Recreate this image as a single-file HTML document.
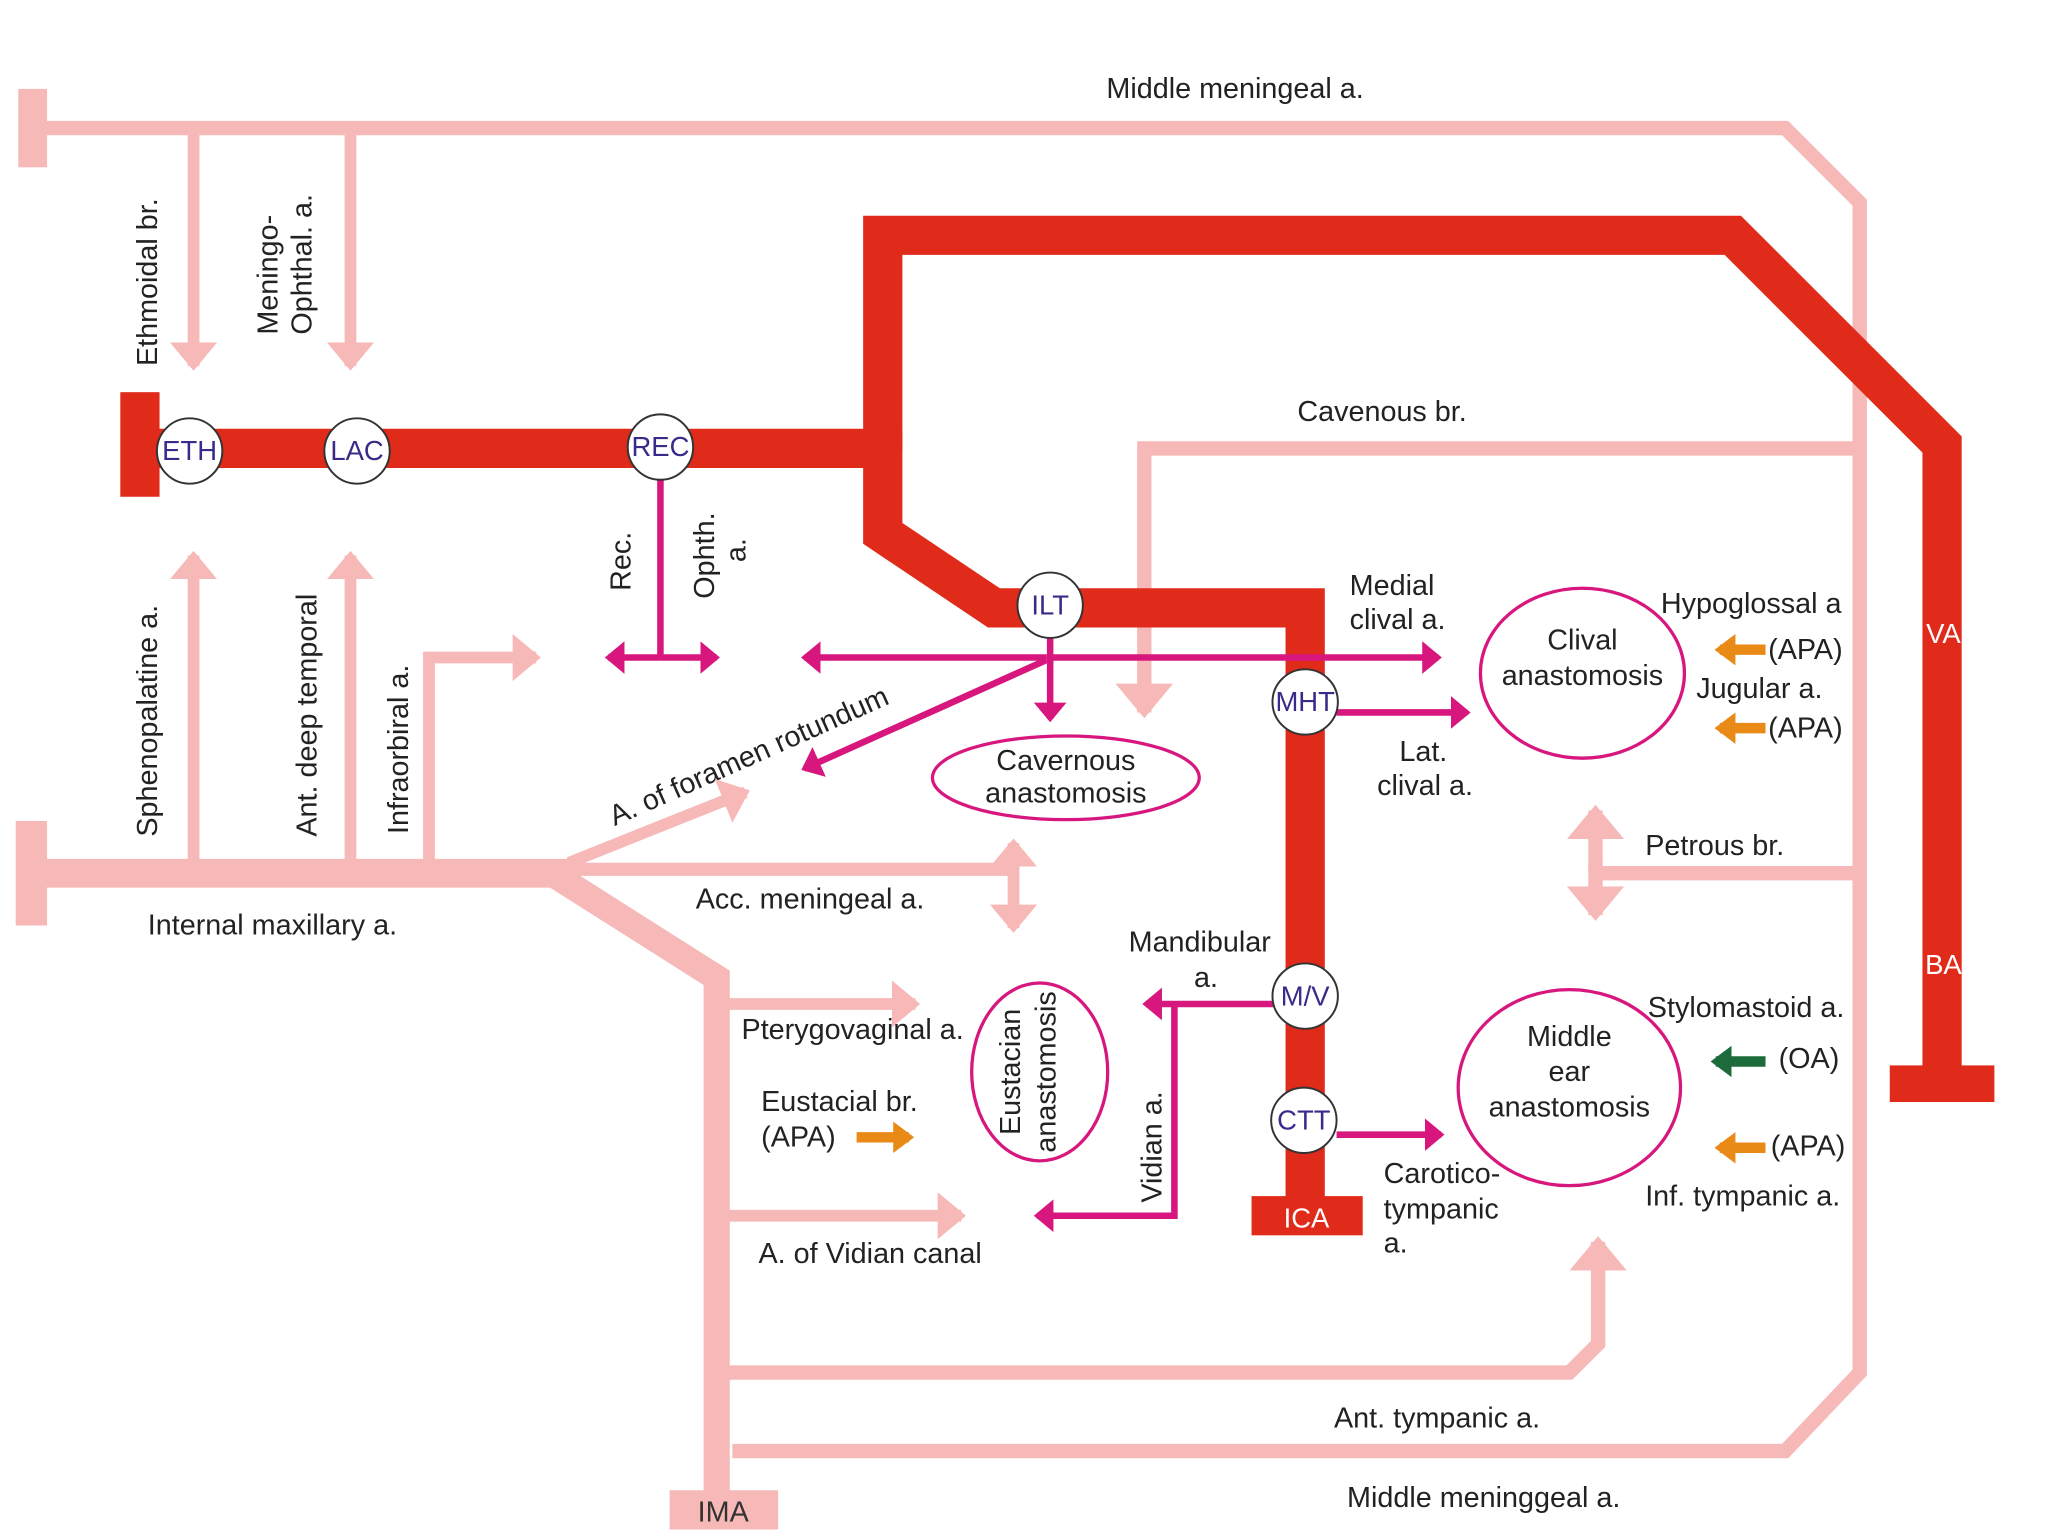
<!DOCTYPE html>
<html><head><meta charset="utf-8"><style>
html,body{margin:0;padding:0;background:#fff;}
svg{display:block;}
text{font-family:"Liberation Sans",Arial,sans-serif;font-size:22px;fill:#222;}
.c{fill:#3a2a8a;font-size:21px;text-anchor:middle;}
.w{fill:#fff;font-size:21px;text-anchor:middle;}
.m{text-anchor:middle;}
</style></head><body>
<svg width="2048" height="1536" viewBox="0 0 1566 1175" preserveAspectRatio="none" xmlns="http://www.w3.org/2000/svg">
<defs>
<marker id="pk" markerWidth="4" markerHeight="4" refX="2" refY="2" orient="auto" markerUnits="strokeWidth"><path d="M0,0 L2.4,2 L0,4 Z" fill="#f7b8b8"/></marker>
<marker id="mg" markerWidth="5" markerHeight="5" refX="2.5" refY="2.5" orient="auto" markerUnits="strokeWidth"><path d="M0,0 L3,2.5 L0,5 Z" fill="#d8177e"/></marker>
<marker id="or" markerWidth="3" markerHeight="3" refX="1.5" refY="1.5" orient="auto" markerUnits="strokeWidth"><path d="M0,0 L2,1.5 L0,3 Z" fill="#e98a17"/></marker>
<marker id="gr" markerWidth="3" markerHeight="3" refX="1.5" refY="1.5" orient="auto" markerUnits="strokeWidth"><path d="M0,0 L2,1.5 L0,3 Z" fill="#1d6a3a"/></marker>
</defs>
<g fill="none" stroke="#f7b8b8" stroke-linejoin="miter">
<rect x="14" y="68" width="22" height="60" fill="#f7b8b8" stroke="none"/>
<polyline points="25,98 1365,98 1422,155 1422,1050 1365,1110 560,1110" stroke-width="11"/>
<line x1="148" y1="98" x2="148" y2="280" stroke-width="9" marker-end="url(#pk)"/>
<line x1="268" y1="98" x2="268" y2="280" stroke-width="9" marker-end="url(#pk)"/>
<rect x="12" y="628" width="24" height="80" fill="#f7b8b8" stroke="none"/>
<line x1="25" y1="668" x2="435" y2="668" stroke-width="22"/>
<line x1="148" y1="668" x2="148" y2="425" stroke-width="9" marker-end="url(#pk)"/>
<line x1="268" y1="668" x2="268" y2="425" stroke-width="9" marker-end="url(#pk)"/>
<polyline points="328,668 328,503 410,503" stroke-width="9" marker-end="url(#pk)"/>
<line x1="435" y1="660" x2="570" y2="606" stroke-width="9" marker-end="url(#pk)"/>
<polyline points="430,665 775,665" stroke-width="10"/>
<line x1="775" y1="655" x2="775" y2="710" stroke-width="9" marker-end="url(#pk)"/>
<line x1="775" y1="665" x2="775" y2="645" stroke-width="9" marker-end="url(#pk)"/>
<polyline points="425,670 548,748 548,1145" stroke-width="20"/>
<line x1="548" y1="768" x2="700" y2="768" stroke-width="9" marker-end="url(#pk)"/>
<line x1="548" y1="930" x2="735" y2="930" stroke-width="9" marker-end="url(#pk)"/>
<polyline points="548,1050 1200,1050 1222,1028 1222,950" stroke-width="11" marker-end="url(#pk)"/>
<polyline points="1422,343 875,343 875,545" stroke-width="11" marker-end="url(#pk)"/>
<line x1="1422" y1="668" x2="1220" y2="668" stroke-width="11"/>
<line x1="1220" y1="660" x2="1220" y2="700" stroke-width="11" marker-end="url(#pk)"/>
<line x1="1220" y1="668" x2="1220" y2="620" stroke-width="11" marker-end="url(#pk)"/>
</g>
<rect x="512" y="1140" width="83" height="30" fill="#f7b8b8"/>
<text x="553" y="1164" class="m" style="fill:#333">IMA</text>
<g fill="none" stroke="#e02a1a" stroke-width="30">
<line x1="105" y1="343" x2="672" y2="343"/>
<polyline points="675,345 675,180 1325,180 1485,340 1485,830"/>
<polyline points="675,330 675,408 760,465 998,465 998,920"/>
</g>
<rect x="92" y="300" width="30" height="80" fill="#e02a1a"/>
<rect x="1445" y="815" width="80" height="28" fill="#e02a1a"/>
<rect x="957" y="915" width="85" height="30" fill="#e02a1a"/>
<text x="999" y="939" class="w">ICA</text>
<text x="1486" y="492" class="w">VA</text>
<text x="1486" y="745" class="w">BA</text>
<g stroke="#d8177e" stroke-width="5" fill="none">
<line x1="505" y1="367" x2="505" y2="503"/>
<line x1="505" y1="503" x2="548" y2="503" marker-end="url(#mg)"/>
<line x1="505" y1="503" x2="465" y2="503" marker-end="url(#mg)"/>
<line x1="800" y1="503" x2="615" y2="503" marker-end="url(#mg)"/>
<line x1="800" y1="503" x2="1100" y2="503" marker-end="url(#mg)"/>
<line x1="803" y1="488" x2="803" y2="550" marker-end="url(#mg)"/>
<line x1="800" y1="505" x2="615" y2="588" marker-end="url(#mg)"/>
<line x1="1022" y1="545" x2="1122" y2="545" marker-end="url(#mg)"/>
<line x1="975" y1="768" x2="876" y2="768" marker-end="url(#mg)"/>
<polyline points="898,768 898,930 793,930" marker-end="url(#mg)"/>
<line x1="1022" y1="868" x2="1102" y2="868" marker-end="url(#mg)"/>
</g>
<g stroke="#d8177e" stroke-width="2.5" fill="#fff">
<ellipse cx="815" cy="595" rx="102" ry="32"/>
<ellipse cx="1210" cy="515" rx="78" ry="65"/>
<ellipse cx="795" cy="820" rx="52" ry="68"/>
<ellipse cx="1200" cy="832" rx="85" ry="75"/>
</g>
<text x="815" y="589" class="m">Cavernous</text><text x="815" y="614" class="m">anastomosis</text>
<text x="1210" y="497" class="m">Clival</text><text x="1210" y="524" class="m">anastomosis</text>
<text x="1200" y="800" class="m">Middle</text><text x="1200" y="827" class="m">ear</text><text x="1200" y="854" class="m">anastomosis</text>
<text transform="translate(780,820) rotate(-90)" class="m">Eustacian</text>
<text transform="translate(807,820) rotate(-90)" class="m">anastomosis</text>
<g stroke="#333" stroke-width="1.5" fill="#fff">
<circle cx="145" cy="345" r="25"/><circle cx="273" cy="345" r="25"/><circle cx="505" cy="342" r="25"/>
<circle cx="803" cy="463" r="25"/><circle cx="998" cy="537" r="25"/><circle cx="998" cy="762" r="25"/><circle cx="997" cy="857" r="25"/>
</g>
<text x="145" y="352" class="c">ETH</text><text x="273" y="352" class="c">LAC</text><text x="505" y="349" class="c">REC</text>
<text x="803" y="470" class="c">ILT</text><text x="998" y="544" class="c">MHT</text><text x="998" y="769" class="c">M/V</text><text x="997" y="864" class="c">CTT</text>
<g stroke-width="8">
<line x1="1350" y1="497" x2="1315" y2="497" stroke="#e98a17" marker-end="url(#or)"/>
<line x1="1350" y1="557" x2="1315" y2="557" stroke="#e98a17" marker-end="url(#or)"/>
<line x1="1350" y1="878" x2="1315" y2="878" stroke="#e98a17" marker-end="url(#or)"/>
<line x1="1350" y1="812" x2="1312" y2="812" stroke="#1d6a3a" marker-end="url(#gr)"/>
<line x1="655" y1="870" x2="695" y2="870" stroke="#e98a17" marker-end="url(#or)"/>
</g>
<text x="846" y="75">Middle meningeal a.</text>
<text x="992" y="322">Cavenous br.</text>
<text transform="translate(120,280) rotate(-90)">Ethmoidal br.</text>
<text transform="translate(212,256) rotate(-90)">Meningo-</text>
<text transform="translate(238,256) rotate(-90)">Ophthal. a.</text>
<text transform="translate(120,640) rotate(-90)">Sphenopalatine a.</text>
<text transform="translate(242,640) rotate(-90)">Ant.  deep temporal</text>
<text transform="translate(312,638) rotate(-90)">Infraorbiral a.</text>
<text transform="translate(482,452) rotate(-90)">Rec.</text>
<text transform="translate(546,458) rotate(-90)">Ophth.</text>
<text transform="translate(570,430) rotate(-90)">a.</text>
<text transform="translate(470,632) rotate(-24)">A. of foramen rotundum</text>
<text x="113" y="715">Internal maxillary a.</text>
<text x="532" y="695">Acc. meningeal a.</text>
<text x="1032" y="455">Medial</text><text x="1032" y="481">clival a.</text>
<text x="1070" y="582">Lat.</text><text x="1053" y="608">clival a.</text>
<text x="1270" y="469">Hypoglossal a</text>
<text x="1352" y="504">(APA)</text>
<text x="1297" y="534">Jugular a.</text>
<text x="1352" y="564">(APA)</text>
<text x="1258" y="654">Petrous br.</text>
<text x="863" y="728">Mandibular</text><text x="913" y="755">a.</text>
<text x="567" y="795">Pterygovaginal a.</text>
<text x="582" y="850">Eustacial br.</text><text x="582" y="877">(APA)</text>
<text x="580" y="966">A. of Vidian canal</text>
<text transform="translate(888,920) rotate(-90)">Vidian a.</text>
<text x="1058" y="905">Carotico-</text><text x="1058" y="932">tympanic</text><text x="1058" y="958">a.</text>
<text x="1260" y="778">Stylomastoid a.</text>
<text x="1360" y="817">(OA)</text>
<text x="1354" y="884">(APA)</text>
<text x="1258" y="922">Inf. tympanic a.</text>
<text x="1020" y="1092">Ant. tympanic a.</text>
<text x="1030" y="1153">Middle meninggeal a.</text>
</svg>
</body></html>
